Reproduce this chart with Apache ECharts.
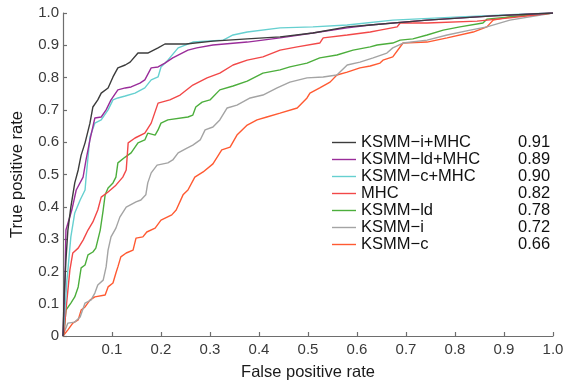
<!DOCTYPE html>
<html>
<head>
<meta charset="utf-8">
<script src="https://cdn.jsdelivr.net/npm/echarts@6/dist/echarts.min.js"></script>
<style>html,body{margin:0;padding:0;background:#fff;}#c{width:569px;height:385px;}</style>
</head>
<body>
<div id="c"></div>
<script>
var seriesNames = ['KSMM\u2212i+MHC', 'KSMM\u2212ld+MHC', 'KSMM\u2212c+MHC', 'MHC', 'KSMM\u2212ld', 'KSMM\u2212i', 'KSMM\u2212c'];
var aucValues = ['0.91', '0.89', '0.90', '0.82', '0.78', '0.72', '0.66'];
var xTicks = [0, 0.1, 0.2, 0.3, 0.4, 0.5, 0.6, 0.7, 0.8, 0.9, 1.0];
var yTicks = [0, 0.1, 0.2, 0.3, 0.4, 0.5, 0.6, 0.7, 0.8, 0.9, 1.0];

var rocIMHC = [[0,0],[0.002,0.111],[0.006,0.235],[0.010,0.328],[0.016,0.399],[0.024,0.474],[0.031,0.514],[0.037,0.560],[0.045,0.598],[0.055,0.659],[0.061,0.709],[0.071,0.731],[0.078,0.752],[0.092,0.768],[0.102,0.802],[0.112,0.830],[0.127,0.839],[0.137,0.848],[0.153,0.876],[0.173,0.876],[0.194,0.892],[0.208,0.904],[0.251,0.904],[0.306,0.913],[0.376,0.920],[0.443,0.926],[0.510,0.938],[0.580,0.957],[0.627,0.963],[0.743,0.978],[0.878,0.991],[1,1]];
var rocLdMHC = [[0,0],[0.004,0.173],[0.006,0.328],[0.018,0.390],[0.027,0.452],[0.041,0.492],[0.047,0.545],[0.055,0.607],[0.065,0.675],[0.078,0.678],[0.088,0.700],[0.098,0.731],[0.112,0.762],[0.127,0.768],[0.139,0.771],[0.157,0.783],[0.167,0.793],[0.180,0.830],[0.194,0.833],[0.208,0.845],[0.224,0.861],[0.255,0.885],[0.273,0.892],[0.306,0.901],[0.376,0.910],[0.443,0.923],[0.510,0.938],[0.580,0.954],[0.627,0.963],[0.743,0.978],[0.878,0.991],[1,1]];
var rocCMHC = [[0,0],[0.004,0.080],[0.008,0.173],[0.010,0.204],[0.016,0.307],[0.024,0.381],[0.035,0.421],[0.045,0.452],[0.047,0.489],[0.055,0.616],[0.065,0.659],[0.078,0.669],[0.092,0.700],[0.102,0.731],[0.112,0.737],[0.127,0.743],[0.147,0.752],[0.167,0.768],[0.180,0.793],[0.194,0.802],[0.200,0.833],[0.214,0.854],[0.235,0.892],[0.265,0.910],[0.327,0.916],[0.347,0.932],[0.376,0.941],[0.443,0.954],[0.510,0.957],[0.580,0.963],[0.673,0.978],[0.810,0.988],[0.947,0.997],[1,1]];
var rocMHC = [[0,0],[0.002,0.009],[0.006,0.080],[0.014,0.204],[0.020,0.257],[0.031,0.272],[0.041,0.297],[0.051,0.328],[0.061,0.353],[0.071,0.390],[0.078,0.430],[0.092,0.446],[0.108,0.467],[0.122,0.492],[0.129,0.514],[0.133,0.598],[0.147,0.613],[0.167,0.628],[0.180,0.659],[0.194,0.721],[0.218,0.731],[0.239,0.746],[0.265,0.777],[0.294,0.799],[0.320,0.814],[0.347,0.839],[0.376,0.854],[0.408,0.864],[0.443,0.885],[0.478,0.895],[0.524,0.907],[0.531,0.923],[0.580,0.932],[0.627,0.941],[0.647,0.947],[0.682,0.957],[0.688,0.969],[0.743,0.969],[0.845,0.975],[0.912,0.985],[1,1]];
var rocLd = [[0,0],[0.002,0.009],[0.006,0.080],[0.016,0.102],[0.024,0.121],[0.031,0.152],[0.037,0.211],[0.045,0.220],[0.051,0.251],[0.061,0.260],[0.067,0.272],[0.076,0.328],[0.082,0.390],[0.086,0.437],[0.092,0.458],[0.102,0.474],[0.108,0.492],[0.112,0.536],[0.127,0.554],[0.139,0.567],[0.153,0.598],[0.167,0.607],[0.173,0.628],[0.188,0.622],[0.194,0.638],[0.200,0.659],[0.214,0.669],[0.255,0.678],[0.265,0.684],[0.271,0.709],[0.284,0.724],[0.300,0.731],[0.320,0.762],[0.347,0.774],[0.376,0.789],[0.408,0.814],[0.443,0.824],[0.463,0.833],[0.498,0.845],[0.524,0.861],[0.559,0.870],[0.592,0.885],[0.627,0.895],[0.641,0.901],[0.673,0.907],[0.688,0.916],[0.714,0.920],[0.743,0.932],[0.776,0.947],[0.810,0.957],[0.857,0.969],[0.865,0.981],[0.912,0.988],[1,1]];
var rocI = [[0,0],[0.002,0.009],[0.010,0.040],[0.024,0.043],[0.035,0.059],[0.045,0.102],[0.057,0.111],[0.065,0.133],[0.071,0.158],[0.082,0.173],[0.088,0.214],[0.092,0.266],[0.098,0.307],[0.108,0.334],[0.116,0.368],[0.129,0.399],[0.149,0.415],[0.159,0.421],[0.169,0.437],[0.173,0.474],[0.180,0.505],[0.192,0.529],[0.214,0.536],[0.224,0.545],[0.235,0.567],[0.253,0.582],[0.265,0.591],[0.280,0.607],[0.290,0.638],[0.306,0.647],[0.320,0.669],[0.335,0.706],[0.355,0.715],[0.382,0.737],[0.408,0.746],[0.437,0.768],[0.463,0.786],[0.498,0.799],[0.531,0.802],[0.559,0.808],[0.580,0.839],[0.606,0.848],[0.633,0.861],[0.661,0.876],[0.673,0.892],[0.694,0.907],[0.743,0.916],[0.784,0.932],[0.831,0.947],[0.865,0.957],[0.912,0.978],[1,1]];
var rocC = [[0,0],[0.010,0.019],[0.020,0.040],[0.031,0.050],[0.037,0.080],[0.045,0.090],[0.055,0.111],[0.065,0.121],[0.086,0.127],[0.092,0.152],[0.102,0.164],[0.108,0.195],[0.112,0.214],[0.118,0.245],[0.129,0.257],[0.143,0.266],[0.149,0.303],[0.163,0.307],[0.171,0.322],[0.188,0.334],[0.200,0.359],[0.222,0.375],[0.231,0.390],[0.245,0.437],[0.255,0.452],[0.269,0.492],[0.286,0.508],[0.306,0.533],[0.324,0.576],[0.341,0.585],[0.355,0.622],[0.376,0.653],[0.396,0.669],[0.416,0.678],[0.443,0.690],[0.478,0.706],[0.498,0.737],[0.504,0.752],[0.524,0.768],[0.545,0.786],[0.559,0.808],[0.580,0.817],[0.606,0.830],[0.627,0.836],[0.647,0.845],[0.653,0.854],[0.673,0.864],[0.694,0.907],[0.743,0.910],[0.784,0.923],[0.837,0.941],[0.865,0.957],[0.878,0.978],[0.912,0.988],[1,1]];

var seriesData = [rocIMHC, rocLdMHC, rocCMHC, rocMHC, rocLd, rocI, rocC];
var colors = ['#3c3c3c', '#9a2d9a', '#66d0d0', '#f24848', '#4cae3c', '#a4a4a4', '#ff5a32'];

var aucMap = {};
seriesNames.forEach(function (n, i) { aucMap[n] = aucValues[i]; });

function fmt(v) {
  if (v === 0) return '0';
  return v.toFixed(1);
}

var chart = echarts.init(document.getElementById('c'), null, {renderer: 'canvas'});
var font = 'Liberation Sans, Arial, sans-serif';
var option = {
  animation: false,
  backgroundColor: '#ffffff',
  grid: {left: 63, right: 16, top: 13, bottom: 49, containLabel: false, outerBoundsMode: 'none'},
  xAxis: {
    type: 'value', min: 0, max: 1, interval: 0.1,
    name: 'False positive rate', nameLocation: 'middle', nameGap: 28,
    nameTextStyle: {fontFamily: font, fontSize: 16.5, color: '#1a1a1a'},
    axisLine: {show: true, lineStyle: {color: '#6e6e6e', width: 1.2}},
    axisTick: {show: true, inside: true, length: 4, lineStyle: {color: '#6e6e6e', width: 1.2}},
    axisLabel: {
      fontFamily: font, fontSize: 15, color: '#3a3a3a', margin: 6,
      formatter: function (v) { return v === 0 ? '' : (xTicks.indexOf(Math.round(v * 10) / 10) >= 0 ? fmt(v) : ''); }
    },
    splitLine: {show: false}
  },
  yAxis: {
    type: 'value', min: 0, max: 1, interval: 0.1,
    name: 'True positive rate', nameLocation: 'middle', nameGap: 37,
    nameTextStyle: {fontFamily: font, fontSize: 16.5, color: '#1a1a1a'},
    axisLine: {show: true, lineStyle: {color: '#6e6e6e', width: 1.2}},
    axisTick: {show: true, inside: true, length: 4, lineStyle: {color: '#6e6e6e', width: 1.2}},
    axisLabel: {
      fontFamily: font, fontSize: 15, color: '#3a3a3a', margin: 4,
      formatter: function (v) { return yTicks.indexOf(Math.round(v * 10) / 10) >= 0 ? fmt(v) : ''; }
    },
    splitLine: {show: false}
  },
  legend: {
    orient: 'vertical', left: 327, top: 129, padding: 5,
    itemWidth: 24, itemHeight: 10, itemGap: 0,
    icon: 'path://M0,0 L24,0 L24,1.4 L0,1.4 Z',
    data: seriesNames,
    formatter: function (name) { return '{a|' + name + '}{b|' + aucMap[name] + '}'; },
    textStyle: {
      fontFamily: font, fontSize: 16.5, color: '#111',
      rich: {
        a: {width: 157, fontFamily: font, fontSize: 16.5, color: '#111', lineHeight: 16.7},
        b: {fontFamily: font, fontSize: 16.5, color: '#111', lineHeight: 16.7}
      }
    }
  },
  series: seriesNames.map(function (n, i) {
    return {
      name: n, type: 'line', data: seriesData[i], showSymbol: false, symbol: 'none',
      lineStyle: {color: colors[i], width: 1.4}, itemStyle: {color: colors[i]},
      z: 10 - i
    };
  })
};
chart.setOption(option);
</script>
</body>
</html>
